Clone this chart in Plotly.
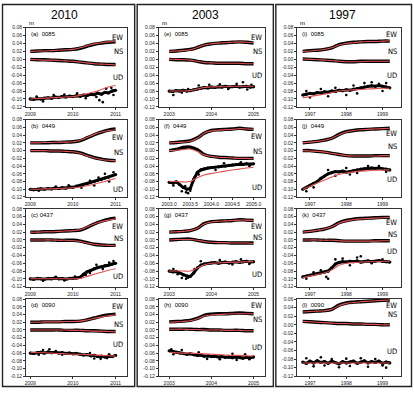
import plotly.graph_objects as go

# ---------------- time grids ----------------
T10 = [2009.0, 2009.17, 2009.33, 2009.5, 2009.67, 2009.83, 2010.0, 2010.17, 2010.33, 2010.5, 2010.67, 2010.83, 2011.0]
T10_UD = [2009.0, 2009.08, 2009.17, 2009.25, 2009.33, 2009.42, 2009.5, 2009.58, 2009.67, 2009.75, 2009.83, 2009.92,
          2010.0, 2010.08, 2010.17, 2010.25, 2010.33, 2010.42, 2010.5, 2010.58, 2010.67, 2010.75, 2010.83, 2010.92, 2011.0]
T03 = [2003.0, 2003.17, 2003.33, 2003.5, 2003.67, 2003.83, 2004.0, 2004.17, 2004.33, 2004.5, 2004.67, 2004.83, 2005.0]
T03_UD = [2003.0, 2003.08, 2003.17, 2003.25, 2003.33, 2003.42, 2003.5, 2003.58, 2003.67, 2003.75, 2003.83, 2003.92,
          2004.0, 2004.08, 2004.17, 2004.25, 2004.33, 2004.42, 2004.5, 2004.58, 2004.67, 2004.75, 2004.83, 2004.92, 2005.0]
T97 = [1996.8, 1997.0, 1997.2, 1997.4, 1997.6, 1997.8, 1998.0, 1998.2, 1998.4, 1998.6, 1998.8, 1999.0, 1999.2]
T97_UD = [1996.8, 1996.9, 1997.0, 1997.1, 1997.2, 1997.3, 1997.4, 1997.5, 1997.6, 1997.7, 1997.8, 1997.9,
          1998.0, 1998.1, 1998.2, 1998.3, 1998.4, 1998.5, 1998.6, 1998.7, 1998.8, 1998.9, 1999.0, 1999.1, 1999.2]

Y_TICKS = [0.08, 0.06, 0.04, 0.02, 0.00, -0.02, -0.04, -0.06, -0.08, -0.10, -0.12]
Y_TICKTEXT = ["0.08", "0.06", "0.04", "0.02", "0.00", "-0.02", "-0.04", "-0.06", "-0.08", "-0.10", "-0.12"]
Y_TICKS_L = [0.06, 0.04, 0.02, 0.00, -0.02, -0.04, -0.06, -0.08, -0.10, -0.12]
Y_TICKTEXT_L = ["0.06", "0.04", "0.02", "0.00", "-0.02", "-0.04", "-0.06", "-0.08", "-0.10", "-0.12"]
X_TICKS_10 = [2009, 2010, 2011]
X_TICKS_03 = [2003, 2004, 2005]
X_TICKS_03F = [2003.0, 2003.5, 2004.0, 2004.5, 2005.0]
X_TICKTEXT_03F = ["2003.0", "2003.5", "2004.0", "2004.5", "2005.0"]
X_TICKS_97 = [1997, 1998, 1999]

COLUMN_TITLES = ["2010", "2003", "1997"]
PANEL_NAMES = ["(a)  0085", "(b)  0449", "(c) 0437", "(d)  0090",
               "(e)  0085", "(f)  0449", "(g)  0437", "(h)  0090",
               "(i)  0085", "(j)  0449", "(k)  0437", "(l)  0090"]

# ---------------- (a) 0085 2010 ----------------
A_EW = [0.020, 0.021, 0.022, 0.022, 0.023, 0.024, 0.025, 0.028, 0.033, 0.038, 0.041, 0.043, 0.044]
A_EW_FIT = [0.020, 0.021, 0.021, 0.022, 0.023, 0.024, 0.025, 0.029, 0.034, 0.039, 0.042, 0.044, 0.045]
A_NS = [0.000, -0.001, -0.001, -0.002, -0.003, -0.004, -0.005, -0.007, -0.009, -0.011, -0.012, -0.013, -0.013]
A_NS_FIT = [0.000, -0.001, -0.002, -0.002, -0.003, -0.004, -0.005, -0.007, -0.009, -0.011, -0.012, -0.013, -0.014]
A_UD = [-0.100, -0.101, -0.099, -0.100, -0.098, -0.097, -0.098, -0.095, -0.096, -0.094, -0.095, -0.093, -0.094,
        -0.092, -0.093, -0.090, -0.091, -0.088, -0.089, -0.085, -0.088, -0.083, -0.085, -0.080, -0.078]
A_UD_FIT = [-0.100, -0.099, -0.098, -0.097, -0.096, -0.095, -0.094, -0.091, -0.087, -0.082, -0.076, -0.070, -0.066]
A_SC_T = [2009.15, 2009.3, 2009.55, 2009.8, 2010.1, 2010.3, 2010.55, 2010.62, 2010.7, 2010.78, 2010.9, 2010.95]
A_SC_V = [-0.094, -0.106, -0.090, -0.089, -0.086, -0.098, -0.095, -0.103, -0.108, -0.074, -0.072, -0.090]

# ---------------- (b) 0449 2010 ----------------
B_EW = [0.020, 0.020, 0.020, 0.021, 0.021, 0.022, 0.023, 0.026, 0.033, 0.041, 0.048, 0.053, 0.056]
B_EW_FIT = [0.020, 0.020, 0.021, 0.021, 0.022, 0.022, 0.023, 0.027, 0.034, 0.042, 0.048, 0.052, 0.054]
B_NS = [0.000, 0.000, 0.000, -0.001, -0.001, -0.002, -0.003, -0.006, -0.012, -0.018, -0.022, -0.025, -0.026]
B_NS_FIT = [0.000, 0.000, 0.000, -0.001, -0.001, -0.002, -0.003, -0.007, -0.013, -0.019, -0.023, -0.025, -0.026]
B_UD = [-0.100, -0.101, -0.100, -0.099, -0.100, -0.098, -0.099, -0.097, -0.098, -0.096, -0.097, -0.094, -0.095,
        -0.092, -0.090, -0.087, -0.085, -0.082, -0.080, -0.077, -0.075, -0.071, -0.069, -0.065, -0.062]
B_UD_FIT = [-0.100, -0.100, -0.099, -0.099, -0.098, -0.097, -0.096, -0.094, -0.091, -0.087, -0.082, -0.077, -0.072]
B_SC_T = [2009.2, 2009.6, 2009.9, 2010.2, 2010.4, 2010.5, 2010.6, 2010.75, 2010.85, 2010.95]
B_SC_V = [-0.104, -0.093, -0.090, -0.096, -0.078, -0.090, -0.070, -0.060, -0.080, -0.056]

# ---------------- (c) 0437 2010 ----------------
C_EW = [0.020, 0.020, 0.021, 0.021, 0.022, 0.023, 0.024, 0.025, 0.032, 0.041, 0.048, 0.053, 0.056]
C_EW_FIT = [0.020, 0.020, 0.021, 0.021, 0.022, 0.023, 0.024, 0.026, 0.033, 0.041, 0.047, 0.051, 0.054]
C_NS = [0.000, 0.000, 0.000, 0.000, -0.001, -0.001, -0.001, -0.003, -0.007, -0.011, -0.013, -0.014, -0.014]
C_NS_FIT = [0.000, 0.000, 0.000, 0.000, -0.001, -0.001, -0.002, -0.004, -0.008, -0.011, -0.013, -0.014, -0.015]
C_UD = [-0.100, -0.101, -0.099, -0.100, -0.101, -0.099, -0.100, -0.098, -0.100, -0.099, -0.101, -0.099, -0.099,
        -0.098, -0.096, -0.088, -0.082, -0.078, -0.074, -0.071, -0.069, -0.066, -0.065, -0.062, -0.060]
C_UD_FIT = [-0.100, -0.100, -0.100, -0.100, -0.100, -0.100, -0.100, -0.099, -0.094, -0.088, -0.083, -0.078, -0.074]
C_SC_T = [2009.3, 2009.6, 2009.8, 2010.05, 2010.3, 2010.4, 2010.55, 2010.7, 2010.85, 2010.95]
C_SC_V = [-0.105, -0.095, -0.104, -0.094, -0.090, -0.085, -0.064, -0.075, -0.058, -0.054]

# ---------------- (d) 0090 2010 ----------------
D_EW = [0.020, 0.020, 0.021, 0.021, 0.021, 0.022, 0.022, 0.023, 0.026, 0.031, 0.036, 0.039, 0.041]
D_EW_FIT = [0.020, 0.020, 0.021, 0.021, 0.021, 0.022, 0.022, 0.023, 0.026, 0.030, 0.034, 0.037, 0.039]
D_NS = [0.000, 0.000, 0.000, 0.000, 0.000, -0.001, -0.001, -0.001, -0.002, -0.002, -0.003, -0.004, -0.004]
D_NS_FIT = [0.000, 0.000, 0.000, 0.000, 0.000, 0.000, -0.001, -0.001, -0.002, -0.003, -0.003, -0.004, -0.005]
D_UD = [-0.060, -0.061, -0.059, -0.058, -0.060, -0.057, -0.059, -0.058, -0.060, -0.059, -0.061, -0.060, -0.062,
        -0.061, -0.063, -0.065, -0.064, -0.067, -0.066, -0.069, -0.068, -0.070, -0.068, -0.069, -0.066]
D_UD_FIT = [-0.058, -0.059, -0.059, -0.060, -0.061, -0.062, -0.063, -0.063, -0.064, -0.065, -0.066, -0.067, -0.068]
D_SC_T = [2009.2, 2009.3, 2009.45, 2009.6, 2009.75, 2010.4, 2010.5, 2010.65, 2010.8, 2010.85]
D_SC_V = [-0.064, -0.052, -0.050, -0.055, -0.064, -0.060, -0.074, -0.075, -0.073, -0.063]

# ---------------- (e) 0085 2003 ----------------
E_EW = [0.020, 0.021, 0.023, 0.025, 0.030, 0.036, 0.039, 0.041, 0.042, 0.043, 0.044, 0.043, 0.041]
E_EW_FIT = [0.020, 0.021, 0.022, 0.024, 0.030, 0.036, 0.039, 0.041, 0.042, 0.043, 0.044, 0.043, 0.042]
E_NS = [0.000, -0.001, -0.001, -0.002, -0.005, -0.008, -0.009, -0.010, -0.010, -0.010, -0.010, -0.011, -0.011]
E_NS_FIT = [0.000, 0.000, -0.001, -0.002, -0.005, -0.008, -0.009, -0.010, -0.010, -0.010, -0.010, -0.011, -0.011]
E_UD = [-0.080, -0.081, -0.079, -0.080, -0.078, -0.080, -0.079, -0.077, -0.075, -0.073, -0.071, -0.072, -0.070,
        -0.071, -0.069, -0.070, -0.068, -0.070, -0.069, -0.068, -0.070, -0.069, -0.068, -0.070, -0.069]
E_UD_FIT = [-0.080, -0.080, -0.080, -0.079, -0.075, -0.071, -0.070, -0.069, -0.069, -0.068, -0.068, -0.068, -0.068]
E_SC_T = [2003.1, 2003.3, 2003.45, 2003.7, 2003.95, 2004.2, 2004.4, 2004.6, 2004.75, 2004.85, 2004.95]
E_SC_V = [-0.090, -0.084, -0.075, -0.066, -0.064, -0.063, -0.075, -0.062, -0.058, -0.076, -0.064]

# ---------------- (f) 0449 2003 ----------------
F_EW = [0.020, 0.021, 0.023, 0.025, 0.033, 0.045, 0.052, 0.054, 0.055, 0.056, 0.058, 0.056, 0.055]
F_EW_FIT = [0.020, 0.021, 0.022, 0.024, 0.032, 0.045, 0.051, 0.053, 0.054, 0.055, 0.057, 0.056, 0.055]
F_NS = [0.000, 0.003, 0.008, 0.009, 0.002, -0.010, -0.015, -0.017, -0.018, -0.019, -0.020, -0.020, -0.020]
F_NS_FIT = [0.000, 0.001, 0.003, 0.004, -0.002, -0.011, -0.015, -0.017, -0.018, -0.019, -0.020, -0.020, -0.021]
F_UD = [-0.082, -0.083, -0.081, -0.088, -0.095, -0.100, -0.098, -0.075, -0.056, -0.050, -0.047, -0.045, -0.044,
        -0.043, -0.042, -0.040, -0.040, -0.038, -0.037, -0.036, -0.035, -0.036, -0.034, -0.035, -0.034]
F_UD_FIT = [-0.080, -0.080, -0.081, -0.080, -0.070, -0.063, -0.059, -0.056, -0.053, -0.050, -0.048, -0.045, -0.043]
F_SC_T = [2003.1, 2003.3, 2003.38, 2003.4, 2003.45, 2003.5, 2003.6, 2003.7, 2004.1, 2004.3, 2004.7, 2004.9]
F_SC_V = [-0.090, -0.105, -0.092, -0.108, -0.110, -0.104, -0.070, -0.062, -0.050, -0.033, -0.030, -0.040]

# ---------------- (g) 0437 2003 ----------------
G_EW = [0.020, 0.021, 0.022, 0.024, 0.030, 0.042, 0.047, 0.048, 0.049, 0.050, 0.052, 0.051, 0.050]
G_EW_FIT = [0.020, 0.021, 0.022, 0.024, 0.030, 0.041, 0.046, 0.048, 0.049, 0.050, 0.051, 0.051, 0.050]
G_NS = [0.000, 0.001, 0.002, 0.002, -0.001, -0.004, -0.006, -0.007, -0.007, -0.008, -0.008, -0.008, -0.008]
G_NS_FIT = [0.000, 0.001, 0.001, 0.001, -0.001, -0.004, -0.006, -0.007, -0.007, -0.008, -0.008, -0.008, -0.009]
G_UD = [-0.080, -0.082, -0.081, -0.085, -0.090, -0.093, -0.094, -0.085, -0.072, -0.065, -0.062, -0.060, -0.059,
        -0.058, -0.060, -0.058, -0.057, -0.059, -0.057, -0.056, -0.058, -0.056, -0.055, -0.057, -0.056]
G_UD_FIT = [-0.080, -0.080, -0.080, -0.080, -0.072, -0.064, -0.060, -0.059, -0.058, -0.057, -0.057, -0.056, -0.056]
G_SC_T = [2003.1, 2003.2, 2003.3, 2003.4, 2003.45, 2003.6, 2003.75, 2004.2, 2004.5, 2004.7, 2004.9]
G_SC_V = [-0.075, -0.088, -0.098, -0.100, -0.097, -0.075, -0.055, -0.052, -0.063, -0.050, -0.062]

# ---------------- (h) 0090 2003 ----------------
H_EW = [0.021, 0.022, 0.023, 0.025, 0.030, 0.038, 0.041, 0.042, 0.042, 0.043, 0.044, 0.043, 0.042]
H_EW_FIT = [0.020, 0.021, 0.022, 0.024, 0.029, 0.036, 0.039, 0.040, 0.041, 0.042, 0.042, 0.042, 0.042]
H_NS = [0.002, 0.002, 0.002, 0.002, 0.001, 0.001, 0.000, 0.000, -0.001, -0.001, -0.001, -0.002, -0.002]
H_NS_FIT = [0.002, 0.002, 0.002, 0.001, 0.001, 0.000, 0.000, 0.000, -0.001, -0.001, -0.001, -0.002, -0.002]
H_UD = [-0.054, -0.056, -0.058, -0.060, -0.061, -0.063, -0.062, -0.064, -0.066, -0.065, -0.068, -0.067, -0.069,
        -0.068, -0.070, -0.069, -0.071, -0.070, -0.072, -0.070, -0.071, -0.073, -0.071, -0.072, -0.070]
H_UD_FIT = [-0.058, -0.059, -0.060, -0.060, -0.061, -0.062, -0.063, -0.064, -0.065, -0.066, -0.066, -0.067, -0.068]
H_SC_T = [2003.05, 2003.1, 2003.3, 2003.7, 2003.9, 2004.2, 2004.5, 2004.6, 2004.8, 2004.9]
H_SC_V = [-0.050, -0.063, -0.052, -0.058, -0.075, -0.076, -0.062, -0.078, -0.063, -0.076]

# ---------------- (i) 0085 1997 ----------------
I_EW = [0.020, 0.022, 0.023, 0.025, 0.029, 0.037, 0.041, 0.043, 0.044, 0.045, 0.045, 0.046, 0.046]
I_EW_FIT = [0.020, 0.021, 0.023, 0.025, 0.029, 0.036, 0.040, 0.042, 0.044, 0.045, 0.045, 0.046, 0.047]
I_NS = [0.001, 0.000, -0.001, -0.002, -0.003, -0.005, -0.006, -0.006, -0.005, -0.005, -0.005, -0.005, -0.005]
I_NS_FIT = [0.001, 0.000, -0.001, -0.002, -0.003, -0.005, -0.006, -0.006, -0.006, -0.005, -0.005, -0.005, -0.005]
I_UD = [-0.090, -0.088, -0.086, -0.087, -0.084, -0.085, -0.082, -0.083, -0.080, -0.081, -0.078, -0.079, -0.077,
        -0.078, -0.075, -0.074, -0.072, -0.070, -0.068, -0.067, -0.068, -0.066, -0.068, -0.070, -0.072]
I_UD_FIT = [-0.097, -0.094, -0.091, -0.088, -0.084, -0.080, -0.078, -0.077, -0.076, -0.075, -0.074, -0.073, -0.073]
I_SC_T = [1996.9, 1997.0, 1997.3, 1997.5, 1997.7, 1998.0, 1998.2, 1998.3, 1998.5, 1998.7, 1998.9, 1999.0, 1999.1]
I_SC_V = [-0.080, -0.096, -0.075, -0.093, -0.072, -0.090, -0.066, -0.086, -0.060, -0.058, -0.062, -0.080, -0.060]

# ---------------- (j) 0449 1997 ----------------
J_EW = [0.020, 0.022, 0.024, 0.027, 0.032, 0.042, 0.049, 0.052, 0.054, 0.055, 0.056, 0.057, 0.058]
J_EW_FIT = [0.020, 0.022, 0.024, 0.027, 0.032, 0.041, 0.048, 0.052, 0.054, 0.055, 0.056, 0.057, 0.058]
J_NS = [0.000, 0.000, -0.002, -0.004, -0.007, -0.010, -0.013, -0.014, -0.014, -0.014, -0.013, -0.013, -0.013]
J_NS_FIT = [0.000, -0.001, -0.002, -0.004, -0.007, -0.010, -0.013, -0.014, -0.014, -0.014, -0.014, -0.013, -0.013]
J_UD = [-0.100, -0.096, -0.090, -0.085, -0.080, -0.072, -0.066, -0.060, -0.057, -0.054, -0.055, -0.053, -0.056,
        -0.054, -0.052, -0.050, -0.048, -0.047, -0.046, -0.045, -0.046, -0.045, -0.047, -0.048, -0.050]
J_UD_FIT = [-0.100, -0.092, -0.084, -0.076, -0.068, -0.062, -0.058, -0.055, -0.053, -0.052, -0.051, -0.050, -0.050]
J_SC_T = [1996.9, 1997.1, 1997.3, 1997.5, 1997.7, 1998.0, 1998.1, 1998.3, 1998.6, 1998.9, 1999.1]
J_SC_V = [-0.105, -0.095, -0.072, -0.050, -0.065, -0.045, -0.062, -0.058, -0.040, -0.040, -0.055]

# ---------------- (k) 0437 1997 ----------------
K_EW = [0.020, 0.022, 0.025, 0.028, 0.034, 0.044, 0.050, 0.053, 0.055, 0.056, 0.057, 0.058, 0.058]
K_EW_FIT = [0.020, 0.022, 0.025, 0.028, 0.034, 0.043, 0.049, 0.052, 0.054, 0.055, 0.056, 0.057, 0.058]
K_NS = [0.000, 0.000, 0.000, -0.001, -0.001, -0.002, -0.003, -0.003, -0.003, -0.003, -0.002, -0.002, -0.002]
K_NS_FIT = [0.000, 0.000, 0.000, -0.001, -0.001, -0.002, -0.003, -0.003, -0.003, -0.003, -0.003, -0.002, -0.002]
K_UD = [-0.095, -0.093, -0.091, -0.089, -0.087, -0.085, -0.083, -0.080, -0.072, -0.062, -0.058, -0.056, -0.057,
        -0.055, -0.056, -0.054, -0.057, -0.055, -0.054, -0.056, -0.055, -0.053, -0.055, -0.056, -0.057]
K_UD_FIT = [-0.097, -0.093, -0.089, -0.085, -0.077, -0.065, -0.060, -0.058, -0.057, -0.056, -0.056, -0.055, -0.055]
K_SC_T = [1996.9, 1997.1, 1997.3, 1997.45, 1997.5, 1997.7, 1997.9, 1998.1, 1998.3, 1998.4, 1998.7, 1999.0]
K_SC_V = [-0.100, -0.083, -0.078, -0.095, -0.100, -0.050, -0.048, -0.065, -0.045, -0.042, -0.060, -0.050]

# ---------------- (l) 0090 1997 (axis runs 0.06 .. -0.12) ----------------
L_EW = [0.030, 0.031, 0.032, 0.033, 0.036, 0.046, 0.051, 0.053, 0.054, 0.055, 0.056, 0.057, 0.058]
L_EW_FIT = [0.030, 0.031, 0.032, 0.033, 0.036, 0.045, 0.050, 0.052, 0.054, 0.055, 0.056, 0.057, 0.058]
L_NS = [0.008, 0.007, 0.006, 0.005, 0.004, 0.003, 0.003, 0.002, 0.002, 0.001, 0.001, 0.000, 0.000]
L_NS_FIT = [0.008, 0.007, 0.006, 0.005, 0.004, 0.003, 0.003, 0.002, 0.002, 0.001, 0.001, 0.000, 0.000]
L_UD = [-0.087, -0.090, -0.085, -0.089, -0.084, -0.088, -0.086, -0.090, -0.085, -0.088, -0.091, -0.086, -0.089,
        -0.087, -0.085, -0.090, -0.087, -0.084, -0.089, -0.086, -0.088, -0.085, -0.090, -0.087, -0.089]
L_UD_FIT = [-0.089, -0.089, -0.089, -0.089, -0.089, -0.089, -0.089, -0.089, -0.089, -0.089, -0.089, -0.089, -0.089]
L_SC_T = [1996.9, 1997.1, 1997.3, 1997.4, 1997.6, 1997.8, 1998.0, 1998.1, 1998.4, 1998.6, 1998.8, 1999.0, 1999.1]
L_SC_V = [-0.078, -0.097, -0.076, -0.095, -0.080, -0.099, -0.079, -0.096, -0.078, -0.098, -0.080, -0.095, -0.100]

# label positions (y, in metres) of the EW / NS / UD texts
LBL_EW = [0.056, 0.034, 0.035, 0.062, 0.056, 0.036, 0.035, 0.063, 0.063, 0.045, 0.045, 0.045]
LBL_NS = [0.019, -0.006, 0.003, 0.014, 0.019, -0.002, 0.006, 0.026, 0.020, 0.011, 0.013, 0.025]
LBL_UD = [-0.047, -0.100, -0.094, -0.039, -0.042, -0.095, -0.090, -0.045, -0.042, -0.076, -0.030, -0.063]

PANELS = [
    (T10, T10_UD, A_EW, A_EW_FIT, A_NS, A_NS_FIT, A_UD, A_UD_FIT, A_SC_T, A_SC_V),
    (T10, T10_UD, B_EW, B_EW_FIT, B_NS, B_NS_FIT, B_UD, B_UD_FIT, B_SC_T, B_SC_V),
    (T10, T10_UD, C_EW, C_EW_FIT, C_NS, C_NS_FIT, C_UD, C_UD_FIT, C_SC_T, C_SC_V),
    (T10, T10_UD, D_EW, D_EW_FIT, D_NS, D_NS_FIT, D_UD, D_UD_FIT, D_SC_T, D_SC_V),
    (T03, T03_UD, E_EW, E_EW_FIT, E_NS, E_NS_FIT, E_UD, E_UD_FIT, E_SC_T, E_SC_V),
    (T03, T03_UD, F_EW, F_EW_FIT, F_NS, F_NS_FIT, F_UD, F_UD_FIT, F_SC_T, F_SC_V),
    (T03, T03_UD, G_EW, G_EW_FIT, G_NS, G_NS_FIT, G_UD, G_UD_FIT, G_SC_T, G_SC_V),
    (T03, T03_UD, H_EW, H_EW_FIT, H_NS, H_NS_FIT, H_UD, H_UD_FIT, H_SC_T, H_SC_V),
    (T97, T97_UD, I_EW, I_EW_FIT, I_NS, I_NS_FIT, I_UD, I_UD_FIT, I_SC_T, I_SC_V),
    (T97, T97_UD, J_EW, J_EW_FIT, J_NS, J_NS_FIT, J_UD, J_UD_FIT, J_SC_T, J_SC_V),
    (T97, T97_UD, K_EW, K_EW_FIT, K_NS, K_NS_FIT, K_UD, K_UD_FIT, K_SC_T, K_SC_V),
    (T97, T97_UD, L_EW, L_EW_FIT, L_NS, L_NS_FIT, L_UD, L_UD_FIT, L_SC_T, L_SC_V),
]

# ---------------- layout geometry (pixels) ----------------
W, H = 414, 393
COL_X = [(25, 126), (158, 265), (297, 401)]
ROW_Y = [(25, 105.5), (118.5, 197), (209, 288), (300.7, 379)]
X_RANGES = [(2008.90, 2011.26), (2002.75, 2005.28), (1996.65, 1999.51)]
RED = "#e2504f"
TICKFONT = dict(family="Liberation Sans, Arial", size=5, color="#222")
LBLFONT = dict(family="Liberation Sans Narrow, DejaVu Sans Condensed, Arial", size=7.5, color="black")

fig = go.Figure()
layout = {}
annotations = []
shapes = []

for i, p in enumerate(PANELS):
    col, row = divmod(i, 4)
    n = i + 1
    xa = "x" if n == 1 else f"x{n}"
    ya = "y" if n == 1 else f"y{n}"
    t, tud, ew, ewf, ns, nsf, ud, udf, sct, scv = p

    for obs in (ew, ns):
        fig.add_trace(go.Scatter(x=t, y=obs, mode="lines", line=dict(color="black", width=3.4, shape="spline"),
                                 xaxis=xa, yaxis=ya, showlegend=False, hoverinfo="skip"))
    fig.add_trace(go.Scatter(x=tud, y=ud, mode="lines+markers", line=dict(color="black", width=3.0),
                             marker=dict(color="black", size=3.2), xaxis=xa, yaxis=ya, showlegend=False,
                             hoverinfo="skip"))
    fig.add_trace(go.Scatter(x=sct, y=scv, mode="markers", marker=dict(color="black", size=2.6),
                             xaxis=xa, yaxis=ya, showlegend=False, hoverinfo="skip"))
    for fit in (ewf, nsf, udf):
        fig.add_trace(go.Scatter(x=t, y=fit, mode="lines", line=dict(color=RED, width=1.1, shape="spline"),
                                 xaxis=xa, yaxis=ya, showlegend=False, hoverinfo="skip"))

    x0, x1 = COL_X[col]
    y0, y1 = ROW_Y[row]
    if col == 0:
        xt, xtt = X_TICKS_10, [str(v) for v in X_TICKS_10]
    elif col == 1 and row == 1:
        xt, xtt = X_TICKS_03F, X_TICKTEXT_03F
    elif col == 1:
        xt, xtt = X_TICKS_03, [str(v) for v in X_TICKS_03]
    else:
        xt, xtt = X_TICKS_97, [str(v) for v in X_TICKS_97]
    if n == 12:
        yr, yt, ytt = [-0.12, 0.06], Y_TICKS_L, Y_TICKTEXT_L
    else:
        yr, yt, ytt = [-0.12, 0.08], Y_TICKS, Y_TICKTEXT

    layout["xaxis" if n == 1 else f"xaxis{n}"] = dict(
        domain=[x0 / W, x1 / W], range=list(X_RANGES[col]), anchor=ya,
        tickvals=xt, ticktext=xtt, ticks="outside", ticklen=2, tickwidth=0.6, tickcolor="#333",
        tickfont=TICKFONT, showgrid=False, zeroline=False, showline=True, mirror=True,
        linecolor="#333", linewidth=0.8, fixedrange=True)
    layout["yaxis" if n == 1 else f"yaxis{n}"] = dict(
        domain=[1 - y1 / H, 1 - y0 / H], range=yr, anchor=xa,
        tickvals=yt, ticktext=ytt, ticks="outside", ticklen=2, tickwidth=0.6, tickcolor="#333",
        tickfont=TICKFONT, showgrid=False, zeroline=False, showline=True, mirror=True,
        linecolor="#333", linewidth=0.8, fixedrange=True)

    annotations.append(dict(text=PANEL_NAMES[i], xref=f"{xa} domain", yref=f"{ya} domain", x=0.03, y=0.985,
                            xanchor="left", yanchor="top", showarrow=False,
                            font=dict(family="Liberation Sans, Arial", size=6, color="black")))
    for txt, yy in (("EW", LBL_EW[i]), ("NS", LBL_NS[i]), ("UD", LBL_UD[i])):
        annotations.append(dict(text=txt, xref=f"{xa} domain", yref=ya, x=0.985, y=yy,
                                xanchor="right", yanchor="middle", showarrow=False, font=LBLFONT))

# column titles and unit labels
for col, title in enumerate(COLUMN_TITLES):
    cx = [64, 205, 342][col]
    annotations.append(dict(text=title, xref="paper", yref="paper", x=cx / W, y=1 - 12 / H,
                            xanchor="center", yanchor="middle", showarrow=False,
                            font=dict(family="Liberation Sans, Arial", size=12, color="black")))
    annotations.append(dict(text="m", xref="paper", yref="paper", x=(COL_X[col][0] + 1) / W, y=1 - 20 / H,
                            xanchor="left", yanchor="middle", showarrow=False,
                            font=dict(family="Liberation Sans, Arial", size=6, color="#000000")))

# outer frames of the three columns
for bx0, bx1 in ((1.5, 134), (136.5, 273), (275.5, 411.5)):
    shapes.append(dict(type="rect", xref="paper", yref="paper", x0=bx0 / W, x1=bx1 / W,
                       y0=1 - 389.5 / H, y1=1 - 1.5 / H, line=dict(color="#222", width=1.4)))

fig.update_layout(width=W, height=H, margin=dict(l=0, r=0, t=0, b=0), paper_bgcolor="white",
                  plot_bgcolor="white", showlegend=False, annotations=annotations, shapes=shapes, **layout)
fig.write_html("out.html", config={"displayModeBar": False})
